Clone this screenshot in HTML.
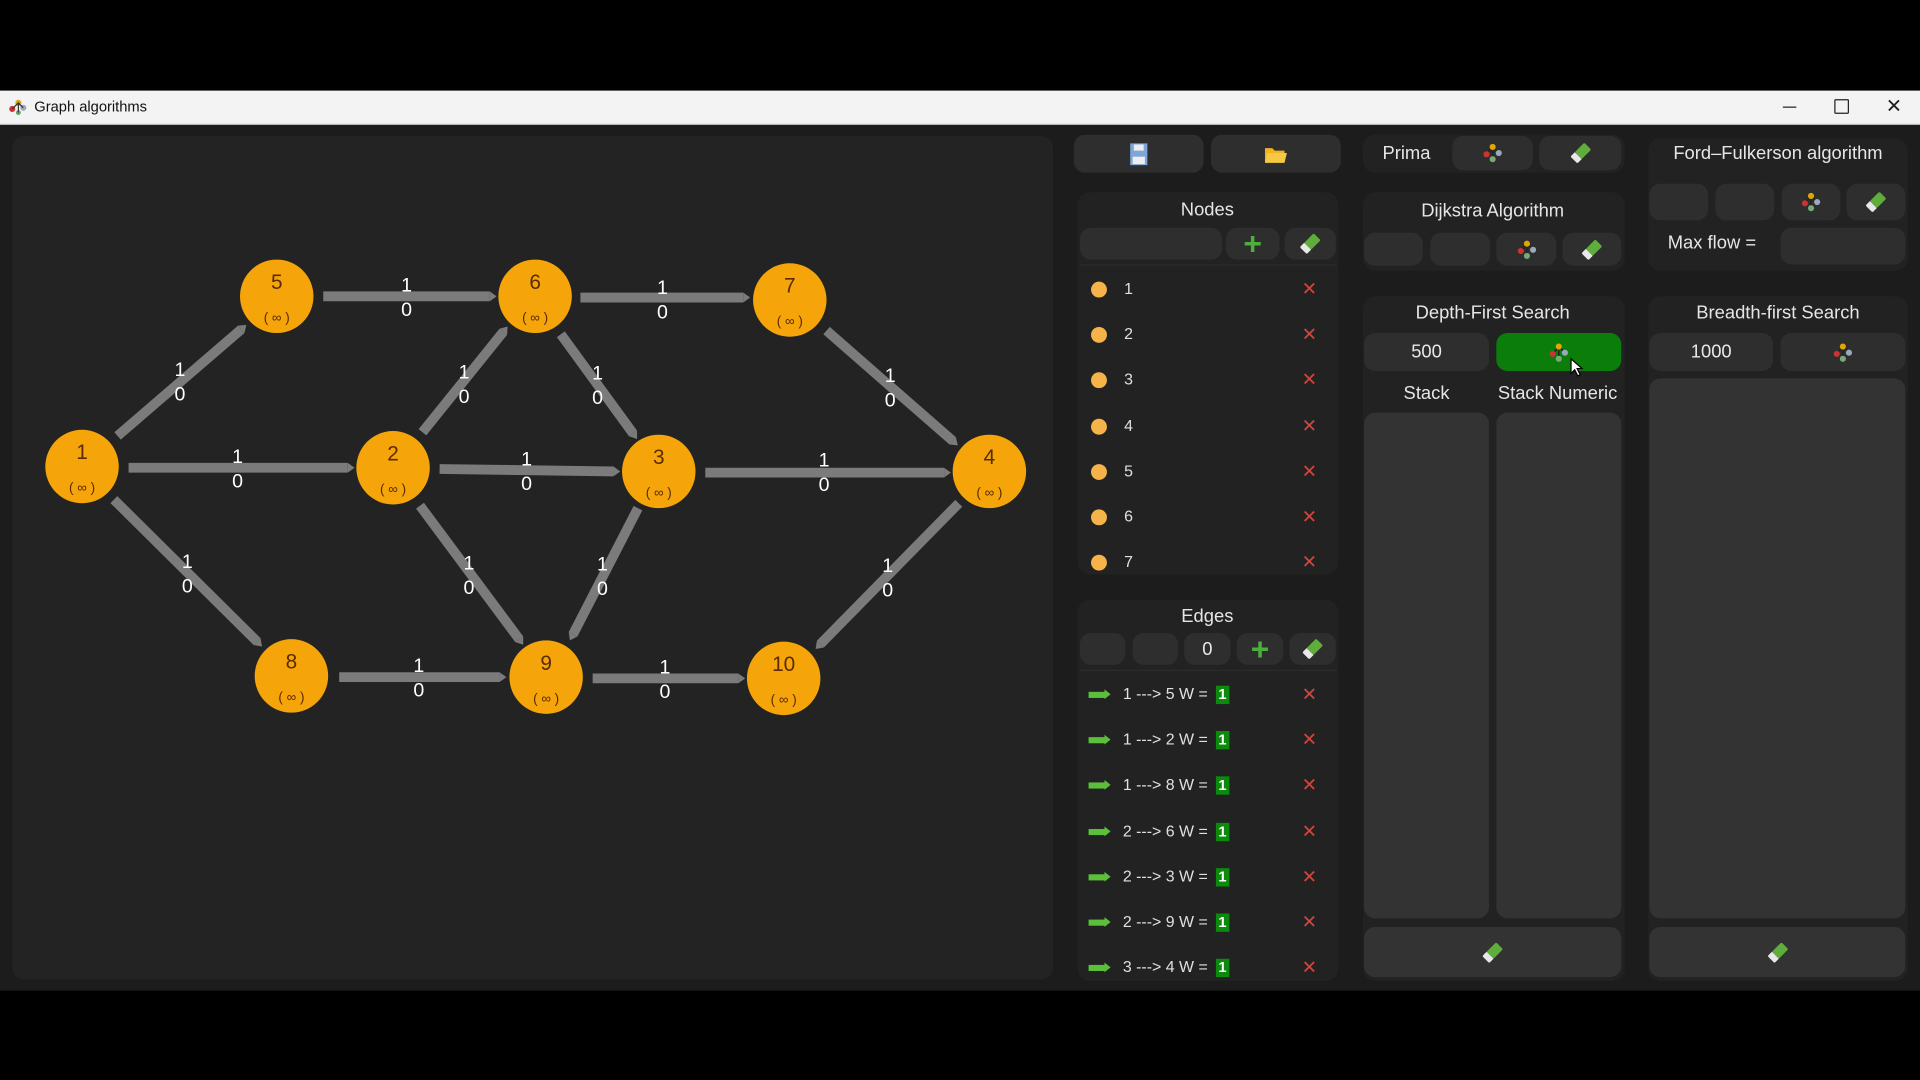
<!DOCTYPE html>
<html><head><meta charset="utf-8">
<style>
html,body{margin:0;padding:0;background:#000;overflow:hidden;width:1920px;height:1080px}
#s{position:absolute;left:0;top:0;width:1568px;height:882px;transform:scale(1.22449);transform-origin:0 0;font-family:"Liberation Sans",sans-serif;background:#000}
.a{position:absolute}
.p{position:absolute;background:#222;border-radius:10px}
.b{position:absolute;background:#2e2e2e;border-radius:9px;color:#e8e8e8;display:flex;align-items:center;justify-content:center;font-size:15px}
.bx{position:absolute;background:#333;border-radius:9px}
.t{position:absolute;color:#e6e6e6;font-size:15px;white-space:nowrap;transform:translateX(-50%)}
.row{position:absolute;height:20px;color:#e0e0e0;font-size:13px}
.dot{position:absolute;width:13px;height:13px;border-radius:50%;background:#f5b34a}
.x{position:absolute;color:#d0463c;font-size:15px}
.w{display:inline-block;background:#0b8a0b;color:#fff;font-size:12px;padding:0 2px;line-height:15px;margin-left:3px;font-weight:bold}
.ar{position:absolute;width:14px;height:5px;background:#5cbf3a}
.ar:after{content:"";position:absolute;right:-4px;top:-2px;border-left:5px solid #5cbf3a;border-top:4.5px solid transparent;border-bottom:4.5px solid transparent}
</style></head><body>
<div id="s">
<div class="a" style="left:0;top:74px;width:1568px;height:27px;background:#f3f3f3;border-bottom:1px solid #ccc"></div>
<svg class="a" style="left:7px;top:80px" width="16" height="14"><circle cx="3" cy="9" r="2.5" fill="#c33"/><circle cx="8" cy="4" r="2.5" fill="#e3a500"/><circle cx="12" cy="8" r="2.5" fill="#9ab"/><circle cx="8" cy="12" r="2" fill="#6a6"/><path d="M3 9L8 4L12 8M8 4V12" stroke="#333" stroke-width="1" fill="none"/></svg>
<div class="a" style="left:28px;top:80px;font-size:12px;color:#111">Graph algorithms</div>
<div class="a" style="left:1456px;top:87px;width:11px;height:1px;background:#222"></div>
<div class="a" style="left:1498px;top:81px;width:10px;height:10px;border:1px solid #222;border-radius:1px"></div>
<div class="a" style="left:1540px;top:77px;font-size:16px;color:#222">✕</div>
<div class="a" style="left:0;top:102px;width:1568px;height:707px;background:#1c1c1c"></div>
<div class="p" style="left:10px;top:111px;width:850px;height:689px;background:#232323"></div>

<svg class="a" style="left:0;top:0" width="860" height="810">
<defs><marker id="m" markerWidth="2" markerHeight="2" refX="0" refY="1" orient="auto" markerUnits="strokeWidth" overflow="visible"><path d="M0,0.5 L0.7,1 L0,1.5Z" fill="#7b7b7b"/></marker></defs>
<g stroke="#7b7b7b" stroke-width="8" marker-end="url(#m)">
<line x1="264" y1="242" x2="400" y2="242"/>
<line x1="474" y1="243" x2="607" y2="243"/>
<line x1="96" y1="356" x2="197" y2="269"/>
<line x1="345" y1="353" x2="411" y2="271"/>
<line x1="458" y1="273" x2="517" y2="354"/>
<line x1="675" y1="270" x2="778" y2="360"/>
<line x1="105" y1="382" x2="284" y2="382"/>
<line x1="359" y1="383" x2="501" y2="385"/>
<line x1="576" y1="386" x2="771" y2="386"/>
<line x1="93" y1="408" x2="210" y2="524"/>
<line x1="343" y1="413" x2="424" y2="522"/>
<line x1="521" y1="415" x2="468" y2="518"/>
<line x1="783" y1="411" x2="670" y2="526"/>
<line x1="277" y1="553" x2="408" y2="553"/>
<line x1="484" y1="554" x2="603" y2="554"/>
</g>
<g fill="#fff" font-family="Liberation Sans,sans-serif" font-size="16" text-anchor="middle">
<text x="332" y="238">1</text><text x="332" y="258">0</text>
<text x="541" y="240">1</text><text x="541" y="260">0</text>
<text x="147" y="307">1</text><text x="147" y="327">0</text>
<text x="379" y="309">1</text><text x="379" y="329">0</text>
<text x="488" y="310">1</text><text x="488" y="330">0</text>
<text x="727" y="312">1</text><text x="727" y="332">0</text>
<text x="194" y="378">1</text><text x="194" y="398">0</text>
<text x="430" y="380">1</text><text x="430" y="400">0</text>
<text x="673" y="381">1</text><text x="673" y="401">0</text>
<text x="153" y="464">1</text><text x="153" y="484">0</text>
<text x="383" y="465">1</text><text x="383" y="485">0</text>
<text x="492" y="466">1</text><text x="492" y="486">0</text>
<text x="725" y="467">1</text><text x="725" y="487">0</text>
<text x="342" y="549">1</text><text x="342" y="569">0</text>
<text x="543" y="550">1</text><text x="543" y="570">0</text>
</g>
<g font-family="Liberation Sans,sans-serif" text-anchor="middle" fill="#5a2a00">
<g transform="translate(67,381)"><ellipse rx="30" ry="30" fill="#f5a50a"/><text y="-6" font-size="17">1</text><text y="21" font-size="11">( ∞ )</text></g>
<g transform="translate(321,382)"><ellipse rx="30" ry="30" fill="#f5a50a"/><text y="-6" font-size="17">2</text><text y="21" font-size="11">( ∞ )</text></g>
<g transform="translate(538,385)"><ellipse rx="30" ry="30" fill="#f5a50a"/><text y="-6" font-size="17">3</text><text y="21" font-size="11">( ∞ )</text></g>
<g transform="translate(808,385)"><ellipse rx="30" ry="30" fill="#f5a50a"/><text y="-6" font-size="17">4</text><text y="21" font-size="11">( ∞ )</text></g>
<g transform="translate(226,242)"><ellipse rx="30" ry="30" fill="#f5a50a"/><text y="-6" font-size="17">5</text><text y="21" font-size="11">( ∞ )</text></g>
<g transform="translate(437,242)"><ellipse rx="30" ry="30" fill="#f5a50a"/><text y="-6" font-size="17">6</text><text y="21" font-size="11">( ∞ )</text></g>
<g transform="translate(645,245)"><ellipse rx="30" ry="30" fill="#f5a50a"/><text y="-6" font-size="17">7</text><text y="21" font-size="11">( ∞ )</text></g>
<g transform="translate(238,552)"><ellipse rx="30" ry="30" fill="#f5a50a"/><text y="-6" font-size="17">8</text><text y="21" font-size="11">( ∞ )</text></g>
<g transform="translate(446,553)"><ellipse rx="30" ry="30" fill="#f5a50a"/><text y="-6" font-size="17">9</text><text y="21" font-size="11">( ∞ )</text></g>
<g transform="translate(640,554)"><ellipse rx="30" ry="30" fill="#f5a50a"/><text y="-6" font-size="17">10</text><text y="21" font-size="11">( ∞ )</text></g>
</g>
</svg>

<div class="b" style="left:877px;top:110px;width:106px;height:31px"><svg width="16" height="18"><rect x="1" y="0" width="14" height="18" fill="#7ea6d8"/><rect x="4" y="1" width="8" height="5" fill="#eee"/><rect x="3" y="11" width="10" height="6" fill="#eee"/></svg></div>
<div class="b" style="left:989px;top:110px;width:106px;height:31px"><svg width="18" height="14"><path d="M0 2h6l2 2h8v10H0Z" fill="#f1b421"/><path d="M2 6h16l-2 8H0Z" fill="#f7c843"/></svg></div>

<div class="p" style="left:880px;top:157px;width:213px;height:312px"></div>
<div class="t" style="left:986px;top:163px">Nodes</div>
<div class="b" style="left:882px;top:186px;width:116px;height:26px"></div>
<div class="b" style="left:1001px;top:186px;width:44px;height:26px;color:#4caf3a;font-size:26px;font-weight:bold">+</div>
<div class="b" style="left:1049px;top:186px;width:42px;height:26px"><svg width="16" height="16"><g transform="rotate(45 8 8)"><rect x="4" y="0" width="8" height="11" rx="1" fill="#5fae3c"/><rect x="4" y="11" width="8" height="5" fill="#e8e8e8"/></g></svg></div>
<div class="a" style="left:882px;top:216px;width:210px;height:1px;background:#2c2c2c"></div>
<div class="dot" style="left:891px;top:230px"></div><div class="row" style="left:918px;top:228px">1</div><div class="x" style="left:1063px;top:227px">✕</div>
<div class="dot" style="left:891px;top:267px"></div><div class="row" style="left:918px;top:265px">2</div><div class="x" style="left:1063px;top:264px">✕</div>
<div class="dot" style="left:891px;top:304px"></div><div class="row" style="left:918px;top:302px">3</div><div class="x" style="left:1063px;top:301px">✕</div>
<div class="dot" style="left:891px;top:342px"></div><div class="row" style="left:918px;top:340px">4</div><div class="x" style="left:1063px;top:339px">✕</div>
<div class="dot" style="left:891px;top:379px"></div><div class="row" style="left:918px;top:377px">5</div><div class="x" style="left:1063px;top:376px">✕</div>
<div class="dot" style="left:891px;top:416px"></div><div class="row" style="left:918px;top:414px">6</div><div class="x" style="left:1063px;top:413px">✕</div>
<div class="dot" style="left:891px;top:453px"></div><div class="row" style="left:918px;top:451px">7</div><div class="x" style="left:1063px;top:450px">✕</div>

<div class="p" style="left:880px;top:490px;width:213px;height:311px"></div>
<div class="t" style="left:986px;top:495px">Edges</div>
<div class="b" style="left:882px;top:517px;width:37px;height:26px"></div>
<div class="b" style="left:925px;top:517px;width:37px;height:26px"></div>
<div class="b" style="left:967px;top:517px;width:38px;height:26px">0</div>
<div class="b" style="left:1010px;top:517px;width:38px;height:26px;color:#4caf3a;font-size:26px;font-weight:bold">+</div>
<div class="b" style="left:1053px;top:517px;width:38px;height:26px"><svg width="16" height="16"><g transform="rotate(45 8 8)"><rect x="4" y="0" width="8" height="11" rx="1" fill="#5fae3c"/><rect x="4" y="11" width="8" height="5" fill="#e8e8e8"/></g></svg></div>
<div class="a" style="left:882px;top:547px;width:210px;height:1px;background:#2c2c2c"></div>

<div class="ar" style="left:889px;top:565px"></div><div class="row" style="left:917px;top:559px">1 ---&gt; 5 W = <span class="w">1</span></div><div class="x" style="left:1063px;top:558px">✕</div>
<div class="ar" style="left:889px;top:602px"></div><div class="row" style="left:917px;top:596px">1 ---&gt; 2 W = <span class="w">1</span></div><div class="x" style="left:1063px;top:595px">✕</div>
<div class="ar" style="left:889px;top:639px"></div><div class="row" style="left:917px;top:633px">1 ---&gt; 8 W = <span class="w">1</span></div><div class="x" style="left:1063px;top:632px">✕</div>
<div class="ar" style="left:889px;top:677px"></div><div class="row" style="left:917px;top:671px">2 ---&gt; 6 W = <span class="w">1</span></div><div class="x" style="left:1063px;top:670px">✕</div>
<div class="ar" style="left:889px;top:714px"></div><div class="row" style="left:917px;top:708px">2 ---&gt; 3 W = <span class="w">1</span></div><div class="x" style="left:1063px;top:707px">✕</div>
<div class="ar" style="left:889px;top:751px"></div><div class="row" style="left:917px;top:745px">2 ---&gt; 9 W = <span class="w">1</span></div><div class="x" style="left:1063px;top:744px">✕</div>
<div class="ar" style="left:889px;top:788px"></div><div class="row" style="left:917px;top:782px">3 ---&gt; 4 W = <span class="w">1</span></div><div class="x" style="left:1063px;top:781px">✕</div>

<div class="p" style="left:1113px;top:110px;width:214px;height:31px"></div>
<div class="a" style="left:1129px;top:117px;color:#e6e6e6;font-size:15px">Prima</div>
<div class="b" style="left:1186px;top:111px;width:66px;height:28px"><svg width="18" height="18" viewBox="0 0 18 18"><path d="M4 10L9 4L14 9M9 4V14" stroke="#222" stroke-width="1.3" fill="none"/><circle cx="4" cy="10" r="2.5" fill="#c33"/><circle cx="9" cy="4" r="2.5" fill="#e3a500"/><circle cx="14" cy="9" r="2.5" fill="#9ab"/><circle cx="9" cy="14" r="2.5" fill="#7a7"/></svg></div>
<div class="b" style="left:1257px;top:111px;width:67px;height:28px"><svg width="16" height="16"><g transform="rotate(45 8 8)"><rect x="4" y="0" width="8" height="11" rx="1" fill="#5fae3c"/><rect x="4" y="11" width="8" height="5" fill="#e8e8e8"/></g></svg></div>

<div class="p" style="left:1113px;top:157px;width:214px;height:64px"></div>
<div class="t" style="left:1219px;top:164px">Dijkstra Algorithm</div>
<div class="b" style="left:1114px;top:190px;width:48px;height:27px"></div>
<div class="b" style="left:1168px;top:190px;width:49px;height:27px"></div>
<div class="b" style="left:1222px;top:190px;width:49px;height:27px"><svg width="18" height="18" viewBox="0 0 18 18"><path d="M4 10L9 4L14 9M9 4V14" stroke="#222" stroke-width="1.3" fill="none"/><circle cx="4" cy="10" r="2.5" fill="#c33"/><circle cx="9" cy="4" r="2.5" fill="#e3a500"/><circle cx="14" cy="9" r="2.5" fill="#9ab"/><circle cx="9" cy="14" r="2.5" fill="#7a7"/></svg></div>
<div class="b" style="left:1276px;top:190px;width:48px;height:27px"><svg width="16" height="16"><g transform="rotate(45 8 8)"><rect x="4" y="0" width="8" height="11" rx="1" fill="#5fae3c"/><rect x="4" y="11" width="8" height="5" fill="#e8e8e8"/></g></svg></div>

<div class="p" style="left:1113px;top:242px;width:214px;height:559px"></div>
<div class="t" style="left:1219px;top:247px">Depth-First Search</div>
<div class="b" style="left:1114px;top:272px;width:102px;height:31px">500</div>
<div class="b" style="left:1222px;top:272px;width:102px;height:31px;background:#0a7d0a"><svg width="18" height="18" viewBox="0 0 18 18"><path d="M4 10L9 4L14 9M9 4V14" stroke="#222" stroke-width="1.3" fill="none"/><circle cx="4" cy="10" r="2.5" fill="#c33"/><circle cx="9" cy="4" r="2.5" fill="#e3a500"/><circle cx="14" cy="9" r="2.5" fill="#9ab"/><circle cx="9" cy="14" r="2.5" fill="#7a7"/></svg></div>
<svg class="a" style="left:1282px;top:292px" width="12" height="16"><path d="M1 1V13L4 10L6.5 15L8.5 14L6 9H10Z" fill="#fff" stroke="#000" stroke-width="1"/></svg>
<div class="t" style="left:1165px;top:313px">Stack</div>
<div class="t" style="left:1272px;top:313px">Stack Numeric</div>
<div class="bx" style="left:1114px;top:337px;width:102px;height:413px"></div>
<div class="bx" style="left:1222px;top:337px;width:102px;height:413px"></div>
<div class="bx" style="left:1114px;top:757px;width:210px;height:41px;display:flex;align-items:center;justify-content:center"><svg width="16" height="16"><g transform="rotate(45 8 8)"><rect x="4" y="0" width="8" height="11" rx="1" fill="#5fae3c"/><rect x="4" y="11" width="8" height="5" fill="#e8e8e8"/></g></svg></div>

<div class="p" style="left:1346px;top:113px;width:212px;height:108px"></div>
<div class="t" style="left:1452px;top:117px">Ford–Fulkerson algorithm</div>
<div class="b" style="left:1347px;top:150px;width:48px;height:30px"></div>
<div class="b" style="left:1401px;top:150px;width:48px;height:30px"></div>
<div class="b" style="left:1455px;top:150px;width:48px;height:30px"><svg width="18" height="18" viewBox="0 0 18 18"><path d="M4 10L9 4L14 9M9 4V14" stroke="#222" stroke-width="1.3" fill="none"/><circle cx="4" cy="10" r="2.5" fill="#c33"/><circle cx="9" cy="4" r="2.5" fill="#e3a500"/><circle cx="14" cy="9" r="2.5" fill="#9ab"/><circle cx="9" cy="14" r="2.5" fill="#7a7"/></svg></div>
<div class="b" style="left:1508px;top:150px;width:48px;height:30px"><svg width="16" height="16"><g transform="rotate(45 8 8)"><rect x="4" y="0" width="8" height="11" rx="1" fill="#5fae3c"/><rect x="4" y="11" width="8" height="5" fill="#e8e8e8"/></g></svg></div>
<div class="a" style="left:1362px;top:190px;color:#e6e6e6;font-size:15px">Max flow =</div>
<div class="b" style="left:1454px;top:186px;width:102px;height:30px"></div>

<div class="p" style="left:1346px;top:242px;width:212px;height:559px"></div>
<div class="t" style="left:1452px;top:247px">Breadth-first Search</div>
<div class="b" style="left:1347px;top:272px;width:101px;height:31px">1000</div>
<div class="b" style="left:1454px;top:272px;width:102px;height:31px"><svg width="18" height="18" viewBox="0 0 18 18"><path d="M4 10L9 4L14 9M9 4V14" stroke="#222" stroke-width="1.3" fill="none"/><circle cx="4" cy="10" r="2.5" fill="#c33"/><circle cx="9" cy="4" r="2.5" fill="#e3a500"/><circle cx="14" cy="9" r="2.5" fill="#9ab"/><circle cx="9" cy="14" r="2.5" fill="#7a7"/></svg></div>
<div class="bx" style="left:1347px;top:309px;width:209px;height:441px"></div>
<div class="bx" style="left:1347px;top:757px;width:209px;height:41px;display:flex;align-items:center;justify-content:center"><svg width="16" height="16"><g transform="rotate(45 8 8)"><rect x="4" y="0" width="8" height="11" rx="1" fill="#5fae3c"/><rect x="4" y="11" width="8" height="5" fill="#e8e8e8"/></g></svg></div>
</div>
</body></html>
